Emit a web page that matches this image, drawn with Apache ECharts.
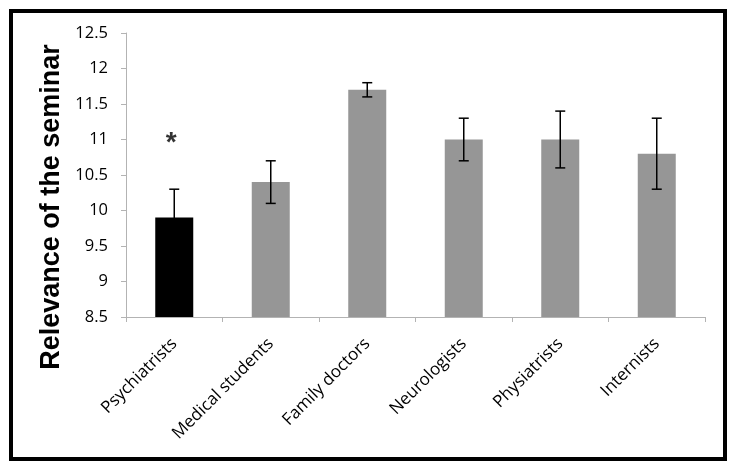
<!DOCTYPE html>
<html><head><meta charset="utf-8">
<script src="https://cdn.jsdelivr.net/npm/echarts@6/dist/echarts.min.js"></script>
<style>html,body{margin:0;padding:0;background:#fff}#c{width:736px;height:469px}</style>
</head><body><div id="c"></div>
<script>
const categories = ['Psychiatrists','Medical students','Family doctors','Neurologists','Physiatrists','Internists'];
const means = [9.9, 10.4, 11.7, 11.0, 11.0, 10.8];
const errLow = [9.5, 10.1, 11.6, 10.7, 10.6, 10.3];
const errHigh = [10.3, 10.7, 11.8, 11.3, 11.4, 11.3];
const barColors = ['#000000','#969696','#969696','#969696','#969696','#969696'];
const yTicks = [8.5, 9, 9.5, 10, 10.5, 11, 11.5, 12, 12.5];
const starPoint = [['Psychiatrists', 11.0]];

const chart = echarts.init(document.getElementById('c'));
chart.setOption({
  animation: false,
  grid: {left: 126, right: 31, top: 33, bottom: 152},
  xAxis: {
    type: 'category', data: categories,
    axisLine: {lineStyle: {color: '#b3b3b3', width: 1}},
    axisTick: {show: true, length: 5, lineStyle: {color: '#b3b3b3'}},
    axisLabel: {rotate: 45, color: '#000', fontFamily: 'Open Sans', fontSize: 17, margin: 24}
  },
  yAxis: {
    type: 'value', min: yTicks[0], max: yTicks[yTicks.length-1], interval: 0.5,
    axisLine: {show: true, lineStyle: {color: '#b3b3b3'}},
    axisTick: {show: true, length: 5, lineStyle: {color: '#b3b3b3'}},
    splitLine: {show: false},
    axisLabel: {color: '#000', fontFamily: 'Open Sans', fontSize: 16.5, margin: 18,
      formatter: v => String(v)}
  },
  graphic: [
    {type: 'rect', shape: {x: 11, y: 11, width: 714, height: 448}, style: {fill: 'none', stroke: '#000', lineWidth: 4}, z: 100},
    {type: 'text', x: 52, y: 207, rotation: Math.PI/2,
      style: {text: 'Relevance of the seminar', font: 'bold 27px "Liberation Sans", Arial, sans-serif', fill: '#000', align: 'center', verticalAlign: 'middle'}}
  ],
  series: [
    {type: 'bar', barWidth: 38,
      data: means.map((v,i)=>({value: v, itemStyle: {color: barColors[i]}}))},
    {type: 'custom', z: 10,
      renderItem: function(params, api){
        const x = api.value(0);
        const lo = api.coord([x, api.value(1)]);
        const hi = api.coord([x, api.value(2)]);
        const hw = 5;
        const st = {stroke: '#000', lineWidth: 1.5};
        return {type: 'group', children: [
          {type: 'line', shape: {x1: lo[0], y1: lo[1], x2: hi[0], y2: hi[1]}, style: st},
          {type: 'line', shape: {x1: hi[0]-hw, y1: hi[1], x2: hi[0]+hw, y2: hi[1]}, style: st},
          {type: 'line', shape: {x1: lo[0]-hw, y1: lo[1], x2: lo[0]+hw, y2: lo[1]}, style: st}
        ]};
      },
      data: categories.map((c,i)=>[i, errLow[i], errHigh[i]])
    },
    {type: 'scatter', symbolSize: 0, data: starPoint,
      label: {show: true, formatter: '*', position: 'inside', offset: [-3, 4], fontSize: 28, fontWeight: 'bold', color: '#000', fontFamily: 'Liberation Sans'}}
  ]
});
</script></body></html>
